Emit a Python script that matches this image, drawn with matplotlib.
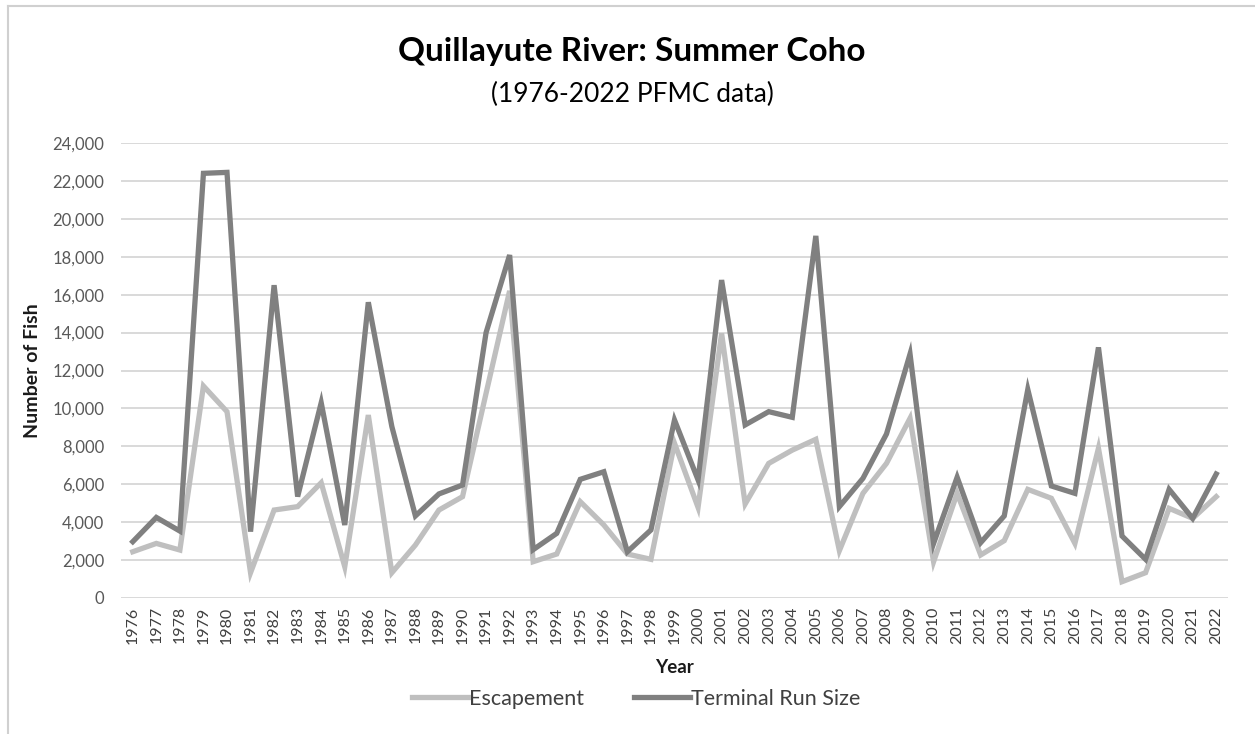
import matplotlib

matplotlib.use("Agg")
import matplotlib.pyplot as plt
from matplotlib.lines import Line2D
from matplotlib.ticker import FuncFormatter

years = list(range(1976, 2023))

escapement = [
    2440, 2880, 2530, 11180, 9830, 1335, 4640, 4820, 6080, 1650,
    9650, 1335, 2795, 4640, 5345, 10800, 16200, 1915, 2320, 5080,
    3850, 2320, 2040, 8160, 4780, 13960, 4960, 7100, 7800, 8370,
    2500, 5520, 7100, 9480, 1915, 5520, 2270, 3025, 5730, 5260,
    2880, 7900, 860, 1335, 4730, 4200, 5345,
]

terminal_run = [
    2970, 4250, 3530, 22400, 22450, 3500, 16500, 5350, 10300, 3850,
    15600, 9040, 4330, 5490, 5960, 14000, 18090, 2550, 3410, 6260,
    6660, 2440, 3590, 9390, 6230, 16770, 9130, 9830, 9530, 19100,
    4820, 6310, 8650, 12870, 2880, 6370, 2920, 4330, 11000, 5910,
    5520, 13220, 3270, 2040, 5730, 4200, 6540,
]

LIGHT = "#bfbfbf"
DARK = "#808080"
TXT = "#595959"

plt.rcParams["font.family"] = ["Lato", "DejaVu Sans"]

fig = plt.figure(figsize=(12.55, 7.34), dpi=100)
ax = fig.add_axes([121 / 1255, 1 - 598 / 734, (1228 - 121) / 1255, 455 / 734])

ax.plot(years, escapement, color=LIGHT, lw=3.8, solid_joinstyle="miter", zorder=3)
ax.plot(years, terminal_run, color=DARK, lw=3.8, solid_joinstyle="miter", zorder=4)

ax.set_xlim(1975.5, 2022.5)
ax.set_ylim(0, 24000)
ax.set_yticks(range(0, 24001, 2000))
ax.yaxis.set_major_formatter(FuncFormatter(lambda v, p: f"{int(v):,}"))
ax.set_xticks(years)
ax.set_xticklabels([str(y) for y in years], rotation=90, fontsize=11.5, color="#404040")
ax.tick_params(axis="y", labelsize=12, labelcolor=TXT, length=0, pad=12)
ax.tick_params(axis="x", length=0, pad=6)
ax.grid(axis="y", color="#d9d9d9", lw=1.4, zorder=0)
for s in ax.spines.values():
    s.set_visible(False)

ax.set_ylabel("Number of Fish", fontsize=14, weight="bold", color="#1a1a1a", labelpad=8)
ax.set_xlabel("Year", fontsize=13.5, weight="bold", color="#1a1a1a", labelpad=11)

fig.text(632 / 1255, 1 - 52 / 734, "Quillayute River: Summer Coho", ha="center", va="center",
         fontsize=24, weight="bold", color="#000000")
fig.text(632 / 1255, 1 - 94 / 734, "(1976-2022 PFMC data)", ha="center", va="center",
         fontsize=19, color="#000000")

handles = [Line2D([], [], color=LIGHT, lw=3.8), Line2D([], [], color=DARK, lw=3.8)]
fig.legend(handles, ["Escapement", "Terminal Run Size"], loc="center",
           bbox_to_anchor=(636 / 1255, 1 - 699 / 734), ncol=2, frameon=False,
           fontsize=15.5, handlelength=2.6, handletextpad=0.05, columnspacing=2.3,
           labelcolor="#404040")

# chart-area frame (left and top edges visible in the reference)
fig.add_artist(Line2D([8 / 1255, 8 / 1255], [0, 1 - 6 / 734], color="#d0d0d0", lw=1.5))
fig.add_artist(Line2D([8 / 1255, 1], [1 - 6 / 734, 1 - 6 / 734], color="#d0d0d0", lw=1.5))

fig.savefig("out.png", dpi=100)
